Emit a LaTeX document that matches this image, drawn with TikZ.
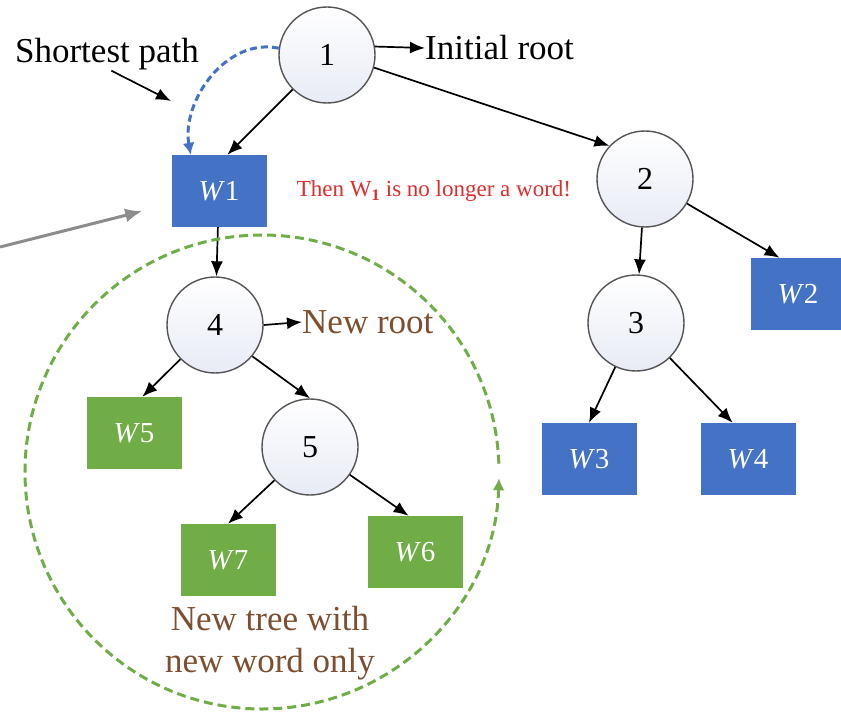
\documentclass[tikz,border=0pt]{standalone}
\usepackage{fontspec}
\setmainfont{Liberation Serif}
\usetikzlibrary{positioning, arrows.meta, calc}

\definecolor{wordblue}{RGB}{68,114,196}
\definecolor{wordgreen}{RGB}{112,173,71}
\definecolor{notered}{RGB}{222,45,45}
\definecolor{notebrown}{RGB}{125,78,48}
\definecolor{ringgrey}{RGB}{85,85,85}
\definecolor{pointgrey}{RGB}{140,140,140}

\tikzset{
	numnode/.style={circle, draw=ringgrey, line width=1.4pt, minimum size=96pt, inner sep=0pt,
		top color=white, bottom color={rgb,255:red,232;green,235;blue,245},
		font=\fontsize{32}{36}\selectfont},
	wordbox/.style={rectangle, minimum width=95pt, minimum height=72pt, inner sep=0pt,
		text=white, font=\fontsize{29}{33}\selectfont},
	bluebox/.style={wordbox, fill=wordblue},
	greenbox/.style={wordbox, fill=wordgreen},
	notetext/.style={inner sep=0pt, font=\fontsize{35}{42}\selectfont},
	edge/.style={-{Latex[length=15pt,width=12pt]}, line width=1.7pt},
	spdash/.style={-{Latex[length=12pt,width=12pt]}, draw=wordblue, line width=3pt, dash pattern=on 7pt off 4pt},
	ringdash/.style={-{Latex[length=12pt,width=12pt]}, draw=wordgreen, line width=3pt, dash pattern=on 9pt off 5pt},
	pointer/.style={-{Latex[length=17pt,width=14pt]}, draw=pointgrey, line width=3pt}
}

\begin{document}
\begin{tikzpicture}[x=1pt, y=1pt]
	\fill[white] (0,0) rectangle (841,-714);
	\useasboundingbox (0,0) rectangle (841,-714);
	
	% tree nodes
	\node[numnode] (n1) at (327,-55) {1};
	\node[numnode] (n2) at (645,-179) {2};
	\node[numnode] (n3) at (636,-323) {3};
	\node[numnode] (n4) at (215,-325) {4};
	\node[numnode] (n5) at (310,-447) {5};
	
	\node[bluebox] (w1) at (219,-191) {\textit{W}1};
	\node[bluebox] (w2) at (798,-294) {\textit{W}2};
	\node[bluebox] (w3) at (589,-459) {\textit{W}3};
	\node[bluebox] (w4) at (748,-459) {\textit{W}4};
	\node[greenbox] (w5) at (134,-433) {\textit{W}5};
	\node[greenbox] (w6) at (415,-552) {\textit{W}6};
	\node[greenbox] (w7) at (228,-560) {\textit{W}7};
	
	% texts
	\node[notetext, anchor=base] (splbl) at (107,-63) {Shortest path};
	\node[notetext, anchor=west] (initlbl) at (425,-48) {Initial root};
	\node[notetext, anchor=west, text=notebrown] (newlbl) at (302,-322) {New root};
	\node[notetext, align=center, text=notebrown] (treelbl) at (270,-643) {New tree with\\new word only};
	\node[inner sep=0pt, anchor=base, text=notered, font=\fontsize{23}{27}\selectfont] (wordlbl) at (434,-197)
		{Then W\textsubscript{\textbf{1}} is no longer a word!};
	
	\coordinate (sphead) at (171,-101);
	\coordinate (greytail) at (0,-247);
	\coordinate (ringc) at (262,-472);
	
	% edges
	\draw[edge] (n1) -- (w1.77);
	\draw[edge] (n1.-15) -- (n2.137);
	\draw[edge] (w1) -- (n4);
	\draw[edge] (n2) -- (n3);
	\draw[edge] (n2) -- (w2.117);
	\draw[edge] (n4) -- (w5.77);
	\draw[edge] (n4.-40) -- (n5.north);
	\draw[edge] (n5) -- (w7.north);
	\draw[edge] (n5) -- (w6.100);
	\draw[edge] (n3) -- (w3.north);
	\draw[edge] (n3) -- (w4.113);
	
	\draw[edge] (n1.10) -- (initlbl.west);
	\draw[edge] (n4.east) -- (newlbl.west);
	\draw[edge] (splbl.-75) -- (sphead);
	
	\draw[spdash] (n1.172) to[out=168, in=100] (w1.128);
	\draw[pointer, shorten >=30pt] (greytail) -- (w1.195);
	\draw[ringdash] (ringc) ++(2:237pt) arc[start angle=2, end angle=358.5, radius=237pt];
	
\end{tikzpicture}
\end{document}
